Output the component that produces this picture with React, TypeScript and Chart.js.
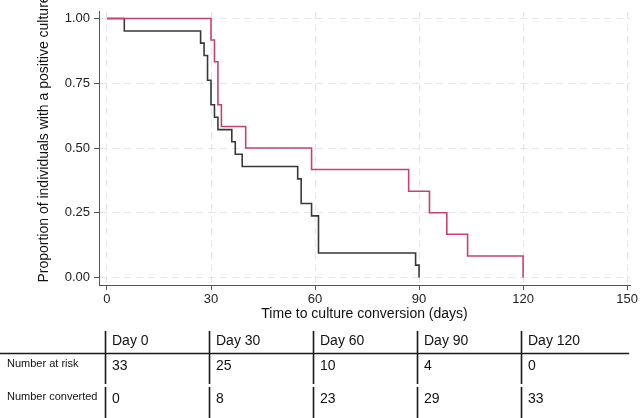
import { useEffect, useRef } from "react";
import { Chart, registerables } from "chart.js";

Chart.register(...registerables);

const FONT = '"Liberation Sans", Arial, Helvetica, sans-serif';

const xTicks = [0, 30, 60, 90, 120, 150];
const yTicks = [0, 0.25, 0.5, 0.75, 1];

// Kaplan–Meier steps: day of each event and the proportion still culture-positive after it
const groupADays = [0, 5, 27, 28, 29, 30, 31, 32, 36, 37, 39, 55, 56, 59, 61, 89, 90];
const groupAProp = [1, 0.952, 0.905, 0.857, 0.762, 0.667, 0.619, 0.571, 0.524, 0.476, 0.429, 0.381, 0.286, 0.238, 0.095, 0.048, 0];
const groupBDays = [0, 30, 31, 32, 33, 40, 59, 87, 93, 98, 104, 120];
const groupBProp = [1, 0.917, 0.833, 0.667, 0.583, 0.5, 0.417, 0.333, 0.25, 0.167, 0.083, 0];

// Risk table under the x axis
const tableDays = [0, 30, 60, 90, 120];
const atRisk = [33, 25, 10, 4, 0];
const converted = [0, 8, 23, 29, 33];
const rowLabels = ["Number at risk", "Number converted"];

const yTitle = "Proportion of individuals with a positive culture";

const riskTablePlugin = {
  id: "riskTable",
  afterDraw(chart: any) {
    const ctx = chart.ctx as CanvasRenderingContext2D;
    const xs = chart.scales.x;
    ctx.save();

    // rotated y-axis title, sitting a little above the plot's middle
    ctx.save();
    ctx.translate(44.5, 139);
    ctx.rotate(-Math.PI / 2);
    ctx.font = `14px ${FONT}`;
    ctx.fillStyle = "#111";
    ctx.textAlign = "center";
    ctx.textBaseline = "middle";
    ctx.fillText(yTitle, 0, 0);
    ctx.restore();

    ctx.strokeStyle = "#1a1a1a";
    ctx.lineWidth = 1.6;
    ctx.beginPath();
    ctx.moveTo(0, 353.5);
    ctx.lineTo(xs.getPixelForValue(xTicks[xTicks.length - 1]) + 2, 353.5);
    ctx.stroke();

    ctx.fillStyle = "#111";
    ctx.textBaseline = "middle";
    ctx.textAlign = "left";
    tableDays.forEach((d, i) => {
      const x = Math.round(xs.getPixelForValue(d)) - 1.5;
      ctx.beginPath();
      ctx.moveTo(x, 331);
      ctx.lineTo(x, 384);
      ctx.moveTo(x, 387);
      ctx.lineTo(x, 418);
      ctx.stroke();
      ctx.font = `14px ${FONT}`;
      ctx.fillText(`Day ${d}`, x + 6.5, 341.5);
      ctx.fillText(String(atRisk[i]), x + 6.5, 366);
      ctx.fillText(String(converted[i]), x + 6.5, 399);
    });
    ctx.font = `11px ${FONT}`;
    ctx.fillText(rowLabels[0], 7, 364);
    ctx.fillText(rowLabels[1], 7, 397);
    ctx.restore();
  },
};

const gridColor = "#e6e6e6";
const axisColor = "#555";

export default function App() {
  const canvasRef = useRef<HTMLCanvasElement | null>(null);

  useEffect(() => {
    document.body.style.margin = "0";
    const canvas = canvasRef.current;
    if (!canvas) return;
    const chart = new Chart(canvas, {
      type: "line",
      data: {
        datasets: [
          {
            data: groupBDays.map((d, i) => ({ x: d, y: groupBProp[i] })),
            borderColor: "#c8416d",
            borderWidth: 1.6,
            stepped: "before",
            pointRadius: 0,
            fill: false,
            order: 0,
          },
          {
            data: groupADays.map((d, i) => ({ x: d, y: groupAProp[i] })),
            borderColor: "#383838",
            borderWidth: 1.6,
            stepped: "before",
            pointRadius: 0,
            fill: false,
            order: 1,
          },
        ],
      },
      options: {
        responsive: false,
        animation: false,
        devicePixelRatio: 1,
        layout: { padding: { left: 0, right: 8, top: 3, bottom: 0 } },
        plugins: {
          legend: { display: false },
          tooltip: { enabled: false },
        },
        scales: {
          x: {
            type: "linear",
            min: -2.3,
            max: 150.86,
            afterBuildTicks: (s: any) => {
              s.ticks = xTicks.map((v) => ({ value: v }));
            },
            afterFit: (s: any) => {
              s.height = 133;
            },
            grid: {
              color: gridColor,
              lineWidth: 1,
              tickLength: 5,
              tickColor: axisColor,
              tickWidth: 1,
              tickBorderDash: [],
            },
            border: { display: true, color: axisColor, width: 1, dash: [7, 5] },
            ticks: {
              font: { family: FONT, size: 13 },
              color: "#222",
              padding: 2,
              maxRotation: 0,
              autoSkip: false,
            },
            title: {
              display: true,
              text: "Time to culture conversion (days)",
              font: { family: FONT, size: 14 },
              color: "#111",
              padding: { top: 0, bottom: 95 },
            },
          },
          y: {
            type: "linear",
            min: -0.0288,
            max: 1.026,
            afterBuildTicks: (s: any) => {
              s.ticks = yTicks.map((v) => ({ value: v }));
            },
            afterFit: (s: any) => {
              s.width = 99;
            },
            grid: {
              color: gridColor,
              lineWidth: 1,
              tickLength: 5,
              tickColor: axisColor,
              tickWidth: 1,
              tickBorderDash: [],
            },
            border: { display: true, color: axisColor, width: 1, dash: [7, 5] },
            ticks: {
              font: { family: FONT, size: 13 },
              color: "#222",
              padding: 4,
              callback: (v: any) => Number(v).toFixed(2),
            },
          },
        },
      },
      plugins: [riskTablePlugin],
    });
    return () => chart.destroy();
  }, []);

  return (
    <div style={{ position: "fixed", left: 0, top: 0, width: 640, height: 418, background: "#fff" }}>
      <canvas ref={canvasRef} width={640} height={418} />
    </div>
  );
}
